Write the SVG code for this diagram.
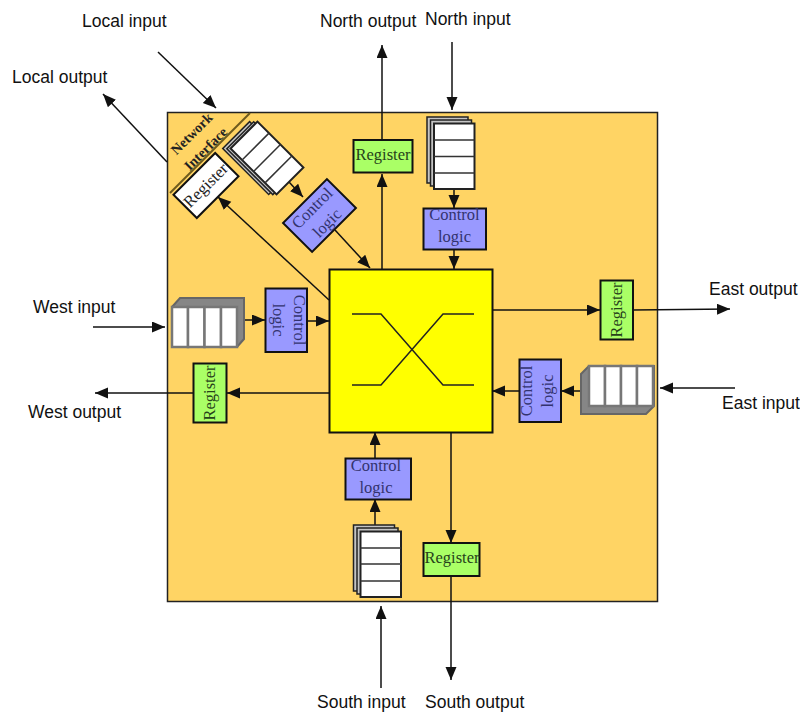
<svg xmlns="http://www.w3.org/2000/svg" width="800" height="713" viewBox="0 0 800 713">
<style>
.l{font:17.5px "Liberation Sans",Arial,sans-serif;fill:#111}
.t{font:16.5px "Liberation Serif","Times New Roman",serif;text-anchor:middle}
.ni{font-size:14px;font-weight:bold;fill:#222}
.b{stroke:#111;stroke-width:2}
.c{fill:#9999ff}
.r{fill:#aaff66}
.ct{fill:#33336e}
.rt{fill:#27431a}
.w{fill:#fff;stroke:#222;stroke-width:2}
.g{fill:#c4c4c4;stroke:#222;stroke-width:1.5}
.h{fill:#868686;stroke:#666;stroke-width:2}
.d{fill:#fff;stroke:#777;stroke-width:2.500}
.a{fill:none;stroke:#111;stroke-width:1.500;marker-end:url(#m)}
</style>
<defs>
<marker id="m" markerUnits="userSpaceOnUse" markerWidth="14" markerHeight="12" refX="13" refY="5.500" orient="auto"><path d="M0 0L13 5.500L0 11Z" fill="#111"/></marker>
</defs>
<rect width="800" height="713" fill="#fff"/>
<g id="router"><rect x="167.500" y="112.500" width="490" height="489" fill="#ffd464" stroke="#222" stroke-width="1.500"/></g>
<g id="crossbar">
<rect x="329.500" y="269.500" width="163" height="163" fill="#ffff00" stroke="#111" stroke-width="2"/>
<path d="M352 314H381L443 385H474M352 385H381L443 314H474" fill="none" stroke="#222" stroke-width="1.500"/>
</g>
<g id="connectors">
<path class="a" d="M382 269V174"/>
<path class="a" d="M382 140V45"/>
<path class="a" d="M452 42V110"/>
<path class="a" d="M454 189V208"/>
<path class="a" d="M454 249V269"/>
<path class="a" d="M93 327H165"/>
<path class="a" d="M244 320H265"/>
<path class="a" d="M307 321H329"/>
<path class="a" d="M329 393H227"/>
<path class="a" d="M193 393H95"/>
<path class="a" d="M492 310H600"/>
<path class="a" d="M633 310L730 309"/>
<path class="a" d="M581 391H561"/>
<path class="a" d="M519 391H492"/>
<path class="a" d="M735 388H660"/>
<path class="a" d="M375 458V432"/>
<path class="a" d="M375 525V499"/>
<path class="a" d="M451 432V543"/>
<path class="a" d="M451 576V680"/>
<path class="a" d="M381 688V606"/>
<path class="a" d="M158 52L216 108"/>
<path class="a" d="M167 162L103 94"/>
<path class="a" d="M329 300L218 197"/>
<path class="a" d="M335 230L370 268"/>
<path class="a" d="M289 182L303 197"/>
</g>
<g id="network-interface">
<path d="M170 193L250 113" stroke="#6e5a1e" stroke-width="2" fill="none"/>
<text class="t ni" transform="translate(195 137) rotate(-45)">Network</text>
<text class="t ni" transform="translate(209 152) rotate(-45)">Interface</text>
</g>
<g id="register-local"><rect class="b" x="-29.500" y="-16.500" width="59" height="33" fill="#fff" transform="translate(206 185.500) rotate(-45)"/><text class="t" transform="translate(206 185.500) rotate(-45) translate(0 5)" fill="#222">Register</text></g>
<g id="buffer-local"><g transform="translate(267 158) rotate(45)">
<rect class="g" x="-38" y="-13.400" width="65" height="38"/><rect class="g" x="-35" y="-16.200" width="65" height="38"/>
<rect class="w" x="-32.500" y="-19" width="65" height="38"/><path d="M-16.200 -19V19M0 -19V19M16.200 -19V19" stroke="#333" stroke-width="1.500"/></g></g>
<g id="control-local"><rect class="b c" x="-31" y="-20.500" width="62" height="41" transform="translate(319.500 215.500) rotate(-45)"/><g transform="translate(319.500 215.500) rotate(-45)"><text class="t ct" y="-5">Control</text><text class="t ct" y="16">logic</text></g></g>
<g id="register-north"><rect class="b r" x="353.500" y="140" width="59" height="32.500"/><text class="t rt" x="383" y="160">Register</text></g>
<g id="buffer-north">
<rect class="g" x="427" y="117" width="41" height="66"/><rect class="g" x="430.500" y="120" width="41" height="66"/>
<rect class="w" x="434" y="123.500" width="40.500" height="65.500"/><path d="M434 140H474.500M434 156.500H474.500M434 173H474.500" stroke="#333" stroke-width="1.500"/></g>
<g id="control-north"><rect class="b c" x="423.500" y="208.500" width="62.500" height="41"/><text class="t ct" x="454.500" y="220">Control</text><text class="t ct" x="454.500" y="242">logic</text></g>
<g id="buffer-west">
<path class="h" d="M172 307L180 298H244V339L237 347H172Z"/>
<rect class="d" x="172" y="307" width="16" height="40"/><rect class="d" x="188" y="307" width="16.500" height="40"/><rect class="d" x="204.500" y="307" width="16.500" height="40"/><rect class="d" x="221" y="307" width="16" height="40"/></g>
<g id="control-west"><rect class="b c" x="265.500" y="288.500" width="41.500" height="63.500"/><g transform="translate(286 320) rotate(90)"><text class="t ct" y="-8">Control</text><text class="t ct" y="13">logic</text></g></g>
<g id="register-west"><rect class="b r" x="193.500" y="363.500" width="33" height="59"/><text class="t rt" transform="translate(215 393) rotate(-90)">Register</text></g>
<g id="register-east"><rect class="b r" x="600.500" y="280.500" width="32.500" height="59"/><text class="t rt" transform="translate(622 310) rotate(-90)">Register</text></g>
<g id="control-east"><rect class="b c" x="519.500" y="359.500" width="41.500" height="62.500"/><g transform="translate(540 391) rotate(-90)"><text class="t ct" y="-8">Control</text><text class="t ct" y="13">logic</text></g></g>
<g id="buffer-east">
<path class="h" d="M589 366L581 374V414H646L654 406V366Z"/>
<rect class="d" x="589" y="366" width="16" height="40"/><rect class="d" x="605" y="366" width="16" height="40"/><rect class="d" x="621" y="366" width="16" height="40"/><rect class="d" x="637" y="366" width="16" height="40"/></g>
<g id="control-south"><rect class="b c" x="345.500" y="458.500" width="65.500" height="41"/><text class="t ct" x="376" y="471">Control</text><text class="t ct" x="376" y="493">logic</text></g>
<g id="buffer-south">
<rect class="g" x="353.500" y="525" width="41" height="66"/><rect class="g" x="357" y="528" width="41" height="66"/>
<rect class="w" x="360.500" y="531.500" width="40.500" height="65.500"/><path d="M360.500 548H401M360.500 564H401M360.500 581H401" stroke="#333" stroke-width="1.500"/></g>
<g id="register-south"><rect class="b r" x="423.500" y="543" width="56" height="33"/><text class="t rt" x="452" y="563">Register</text></g>
<g id="labels">
<text class="l" x="82" y="27">Local input</text>
<text class="l" x="12" y="83">Local output</text>
<text class="l" x="320" y="27">North output</text>
<text class="l" x="425" y="25">North input</text>
<text class="l" x="33" y="313">West input</text>
<text class="l" x="28" y="418">West output</text>
<text class="l" x="709" y="295">East output</text>
<text class="l" x="722" y="409">East input</text>
<text class="l" x="317" y="708">South input</text>
<text class="l" x="425" y="708">South output</text>
</g>
</svg>
